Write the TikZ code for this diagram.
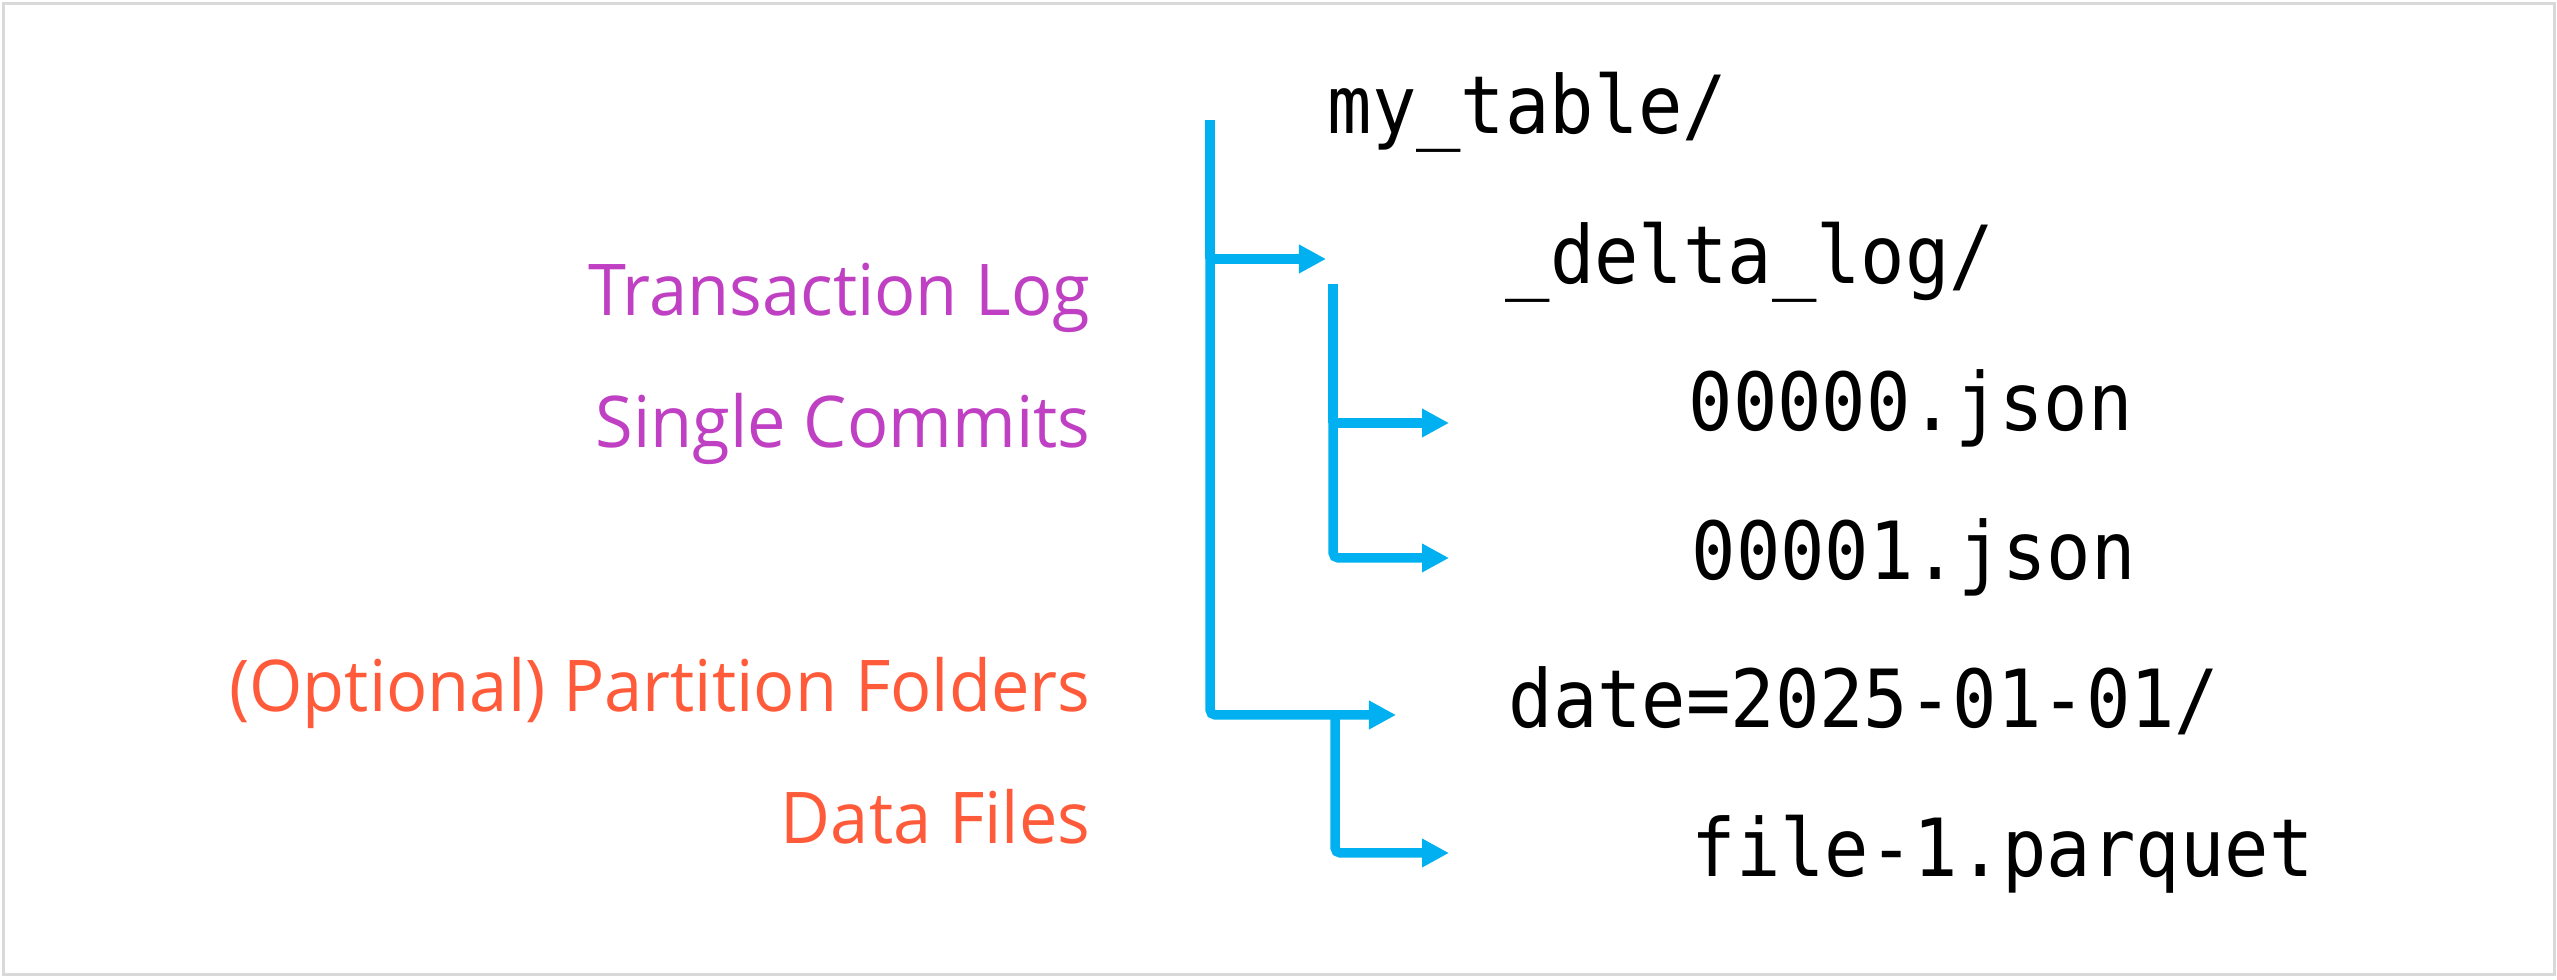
\documentclass[tikz,border=0pt]{standalone}
\usepackage{fontspec}
\setmainfont[FakeStretch=0.96]{Open Sans}
\newfontfamily\codefont[FakeStretch=0.92]{DejaVu Sans Mono}
\usetikzlibrary{arrows.meta}
\definecolor{bluel}{HTML}{00B0F0}
\definecolor{purp}{HTML}{C040C4}
\definecolor{oran}{HTML}{FF5B3B}
\definecolor{frame}{HTML}{D9D9D9}
\tikzset{
  code/.style={font=\codefont\fontsize{22.8pt}{26pt}\selectfont, anchor=base west, inner sep=0pt},
  lbl/.style={font=\fontsize{20.3pt}{24pt}\selectfont, anchor=base east, inner sep=0pt},
  tree/.style={draw=bluel, line width=2.7pt, rounded corners=1.5pt, -{Triangle[length=0.27cm,width=0.27cm]}},
  stem/.style={draw=bluel, line width=2.7pt}
}
\begin{document}
\begin{tikzpicture}[x=0.01cm,y=-0.01cm]
\useasboundingbox (0,0) rectangle (2557,980);
\draw[frame, line width=0.85pt] (3.5,3.5) rectangle (2554,974.5);
% code texts
\node[code] (root) at (1327,134) {my\_table/};
\node[code] (dlog) at (1505,284) {\_delta\_log/};
\node[code] (j0) at (1688,431) {00000.json};
\node[code] (j1) at (1691,580) {00001.json};
\node[code] (part) at (1508,728) {date=2025-01-01/};
\node[code] (pq) at (1691,877) {file-1.parquet};
% labels
\node[lbl, text=purp] (tl) at (1091,316) {Transaction Log};
\node[lbl, text=purp] (sc) at (1091,448) {Single Commits};
\node[lbl, text=oran] (pf) at (1091,712) {(Optional) Partition Folders};
\node[lbl, text=oran] (df) at (1091,844) {Data Files};
% connector coordinates
\coordinate (t0) at (1210,120);
\coordinate (b1) at (1210,259);
\coordinate (e1) at (1326,259);
\coordinate (t1) at (1333,284);
\coordinate (b2) at (1333,423);
\coordinate (e2) at (1449,423);
\coordinate (e3) at (1449,558);
\coordinate (c0) at (1210,715);
\coordinate (e4) at (1396,715);
\coordinate (t3) at (1335,715);
\coordinate (e5) at (1449,853);
% tree connectors
\draw[stem] (t0) -- (b1);
\draw[tree] (b1) -- (e1);
\draw[tree] (b1) -- (c0) -- (e4);
\draw[stem] (t1) -- (b2);
\draw[tree] (b2) -- (e2);
\draw[tree] (b2) -- (t1 |- e3) -- (e3);
\draw[tree] (t3) -- (t3 |- e5) -- (e5);
\end{tikzpicture}
\end{document}
